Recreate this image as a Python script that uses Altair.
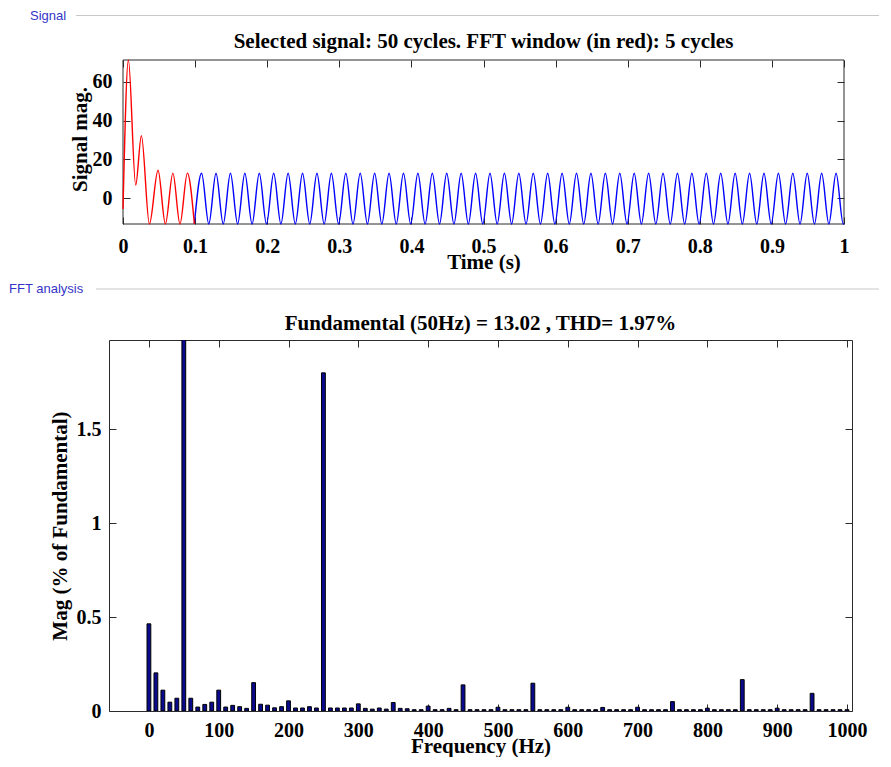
import altair as alt
import pandas as pd

# ---------------- data ----------------
# Signal (FFT window, red): extrema of the transient over the first 5 cycles
red_t = [0.0, 0.0075, 0.0176, 0.0255, 0.0366, 0.0486, 0.0588, 0.0692, 0.0790, 0.0893, 0.0990]
red_v = [-5.5, 71.2, 6.8, 32.3, -13.2, 14.5, -13.2, 13.0, -13.2, 13.0, -13.2]

# Signal (rest, blue): steady 50 Hz oscillation, troughs / peaks
blue_t = [
    0.099, 0.109, 0.119, 0.129, 0.139, 0.149, 0.159, 0.169, 0.179, 0.189,
    0.199, 0.209, 0.219, 0.229, 0.239, 0.249, 0.259, 0.269, 0.279, 0.289,
    0.299, 0.309, 0.319, 0.329, 0.339, 0.349, 0.359, 0.369, 0.379, 0.389,
    0.399, 0.409, 0.419, 0.429, 0.439, 0.449, 0.459, 0.469, 0.479, 0.489,
    0.499, 0.509, 0.519, 0.529, 0.539, 0.549, 0.559, 0.569, 0.579, 0.589,
    0.599, 0.609, 0.619, 0.629, 0.639, 0.649, 0.659, 0.669, 0.679, 0.689,
    0.699, 0.709, 0.719, 0.729, 0.739, 0.749, 0.759, 0.769, 0.779, 0.789,
    0.799, 0.809, 0.819, 0.829, 0.839, 0.849, 0.859, 0.869, 0.879, 0.889,
    0.899, 0.909, 0.919, 0.929, 0.939, 0.949, 0.959, 0.969, 0.979, 0.989,
    0.999, 1.0,
]
blue_v = [
    -13.2, 12.9, -13.2, 12.9, -13.2, 12.9, -13.2, 12.9, -13.2, 12.9,
    -13.2, 12.9, -13.2, 12.9, -13.2, 12.9, -13.2, 12.9, -13.2, 12.9,
    -13.2, 12.9, -13.2, 12.9, -13.2, 12.9, -13.2, 12.9, -13.2, 12.9,
    -13.2, 12.9, -13.2, 12.9, -13.2, 12.9, -13.2, 12.9, -13.2, 12.9,
    -13.2, 12.9, -13.2, 12.9, -13.2, 12.9, -13.2, 12.9, -13.2, 12.9,
    -13.2, 12.9, -13.2, 12.9, -13.2, 12.9, -13.2, 12.9, -13.2, 12.9,
    -13.2, 12.9, -13.2, 12.9, -13.2, 12.9, -13.2, 12.9, -13.2, 12.9,
    -13.2, 12.9, -13.2, 12.9, -13.2, 12.9, -13.2, 12.9, -13.2, 12.9,
    -13.2, 12.9, -13.2, 12.9, -13.2, 12.9, -13.2, 12.9, -13.2, 12.9,
    -13.2, -13.1,
]

# FFT spectrum: 10 Hz bins from 0 to 1000 Hz, magnitude in % of fundamental
freqs = list(range(0, 1010, 10))
mags = [
    0.464, 0.203, 0.111, 0.047, 0.068, 100.0, 0.068, 0.021, 0.035, 0.047,
    0.111, 0.021, 0.030, 0.023, 0.014, 0.151, 0.036, 0.031, 0.017, 0.023,
    0.054, 0.016, 0.016, 0.023, 0.016, 1.800, 0.016, 0.016, 0.016, 0.016,
    0.038, 0.014, 0.010, 0.016, 0.010, 0.045, 0.014, 0.012, 0.007, 0.007,
    0.026, 0.007, 0.007, 0.014, 0.007, 0.139, 0.007, 0.007, 0.007, 0.007,
    0.020, 0.007, 0.007, 0.007, 0.007, 0.148, 0.007, 0.007, 0.007, 0.007,
    0.020, 0.007, 0.007, 0.007, 0.007, 0.019, 0.007, 0.007, 0.007, 0.007,
    0.020, 0.007, 0.007, 0.007, 0.007, 0.050, 0.007, 0.007, 0.007, 0.007,
    0.015, 0.007, 0.007, 0.007, 0.007, 0.167, 0.007, 0.007, 0.007, 0.007,
    0.015, 0.007, 0.007, 0.007, 0.007, 0.094, 0.007, 0.007, 0.007, 0.007,
    0.007,
]

time_ticks = [0, 0.1, 0.2, 0.3, 0.4, 0.5, 0.6, 0.7, 0.8, 0.9, 1]
sig_ticks = [0, 20, 40, 60]
freq_ticks = [0, 100, 200, 300, 400, 500, 600, 700, 800, 900, 1000]
mag_ticks = [0, 0.5, 1, 1.5]

top_title = "Selected signal: 50 cycles. FFT window (in red): 5 cycles"
bot_title = "Fundamental (50Hz) = 13.02 , THD= 1.97%"

# ---------------- styling ----------------
SERIF = "Liberation Serif"
SANS = "Liberation Sans"
FRAME = "#2b2b2b"
HEAD_BLUE = "#3535c8"
HEAD_GRAY = "#c8c8c8"
SHIFT = 14                 # top plot frame starts 14 px right of the bottom one
TW, TH = 721, 164
BW, BH = 743, 371
TICK = 7

red_df = pd.DataFrame({"t": red_t, "v": red_v})
blue_df = pd.DataFrame({"t": blue_t, "v": blue_v})
fft_df = pd.DataFrame({"f": freqs, "m": mags})
one = pd.DataFrame({"k": [0]})


def main_axis(orient, values, pad, title, tx, ty, off=-TICK):
    return alt.Axis(orient=orient, values=values, format="~r", tickSize=TICK, offset=off,
                    domain=False, grid=False, labelPadding=pad, labelFlush=False,
                    labelOverlap=False, title=title, titleX=tx, titleY=ty,
                    titleBaseline="alphabetic")


def mirror_axis(orient, values):
    return alt.Axis(orient=orient, values=values, labels=False, title=None, tickSize=TICK,
                    offset=-TICK, domain=False, grid=False)


def text(x, y, s, **kw):
    return alt.Chart(one).mark_text(**kw).encode(x=alt.value(x), y=alt.value(y), text=alt.value(s))


def hline(x1, x2, y, color, width=1):
    return alt.Chart(one).mark_rule(color=color, strokeWidth=width).encode(
        x=alt.value(x1), x2=alt.value(x2), y=alt.value(y))


# ---------------- top panel: signal ----------------
x_t = alt.Scale(domain=[0, 1], range=[SHIFT, SHIFT + TW], nice=False, zero=False)
y_t = alt.Scale(domain=[-13.2, 71.2], nice=False, zero=False)

blue = alt.Chart(blue_df).mark_line(color="#0000ff", strokeWidth=1.4, interpolate="monotone").encode(
    x=alt.X("t:Q", scale=x_t, axis=main_axis("bottom", time_ticks, 12, "Time (s)", SHIFT + TW / 2, 51)),
    y=alt.Y("v:Q", scale=y_t, axis=main_axis("left", sig_ticks, 11, "Signal mag.", -44, 79,
                                             off=-TICK - SHIFT)),
)
red = alt.Chart(red_df).mark_line(color="#ff0000", strokeWidth=1.4, interpolate="monotone").encode(
    x=alt.X("t:Q", scale=x_t, axis=mirror_axis("top", time_ticks)),
    y=alt.Y("v:Q", scale=y_t, axis=mirror_axis("right", sig_ticks)),
)
frame = alt.Chart(one).mark_rect(fill="transparent", stroke=FRAME, strokeWidth=1).encode(
    x=alt.value(SHIFT), x2=alt.value(SHIFT + TW), y=alt.value(0), y2=alt.value(TH))

top = alt.layer(
    frame, blue, red,
    text(SHIFT + TW / 2, -12, top_title, font=SERIF, fontSize=21, fontWeight="bold", align="center",
         baseline="alphabetic", color="black"),
    text(-79, -44, "Signal", font=SANS, fontSize=13, align="left", baseline="middle", color=HEAD_BLUE),
    hline(-33, 770, -44.5, HEAD_GRAY),
    hline(0, 1, -51, "white"),
    hline(0, 1, 219, "white"),
).resolve_axis(x="independent", y="independent").properties(
    width=SHIFT + TW, height=TH, view=alt.ViewBackground(stroke="transparent"))

# ---------------- bottom panel: FFT ----------------
x_f = alt.Scale(domain=[-50, 1000], nice=False, zero=False)
y_f = alt.Scale(domain=[0, 1.975], nice=False, zero=True)

bars = alt.Chart(fft_df).mark_bar(size=3.8, fill="#0a0a8f", stroke="black", strokeWidth=1, clip=True).encode(
    x=alt.X("f:Q", scale=x_f, axis=main_axis("bottom", freq_ticks, 9, "Frequency (Hz)", BW / 2, 48)),
    y=alt.Y("m:Q", scale=y_f, axis=main_axis("left", mag_ticks, 8, "Mag (% of Fundamental)", -49.5, BH / 2)),
)
ghost = alt.Chart(fft_df).mark_point(opacity=0, clip=True).encode(
    x=alt.X("f:Q", scale=x_f, axis=mirror_axis("top", freq_ticks)),
    y=alt.Y("m:Q", scale=y_f, axis=mirror_axis("right", mag_ticks)),
)

bottom = alt.layer(
    bars, ghost,
    text(BW / 2, -10, bot_title, font=SERIF, fontSize=21, fontWeight="bold", align="center",
         baseline="alphabetic", color="black"),
    text(-100, -51, "FFT analysis", font=SANS, fontSize=13, align="left", baseline="middle", color=HEAD_BLUE),
    hline(-13, 770, -51, HEAD_GRAY),
    hline(-100, -99, -59, "white"),
).resolve_axis(x="independent", y="independent").properties(width=BW, height=BH)

chart = alt.concat(top, bottom, columns=1, spacing=0).properties(
    padding=0
).configure_axis(
    labelFont=SERIF, labelFontSize=20, labelFontWeight="bold", labelColor="black",
    titleFont=SERIF, titleFontSize=21, titleFontWeight="bold", titleColor="black",
    tickColor=FRAME, tickWidth=1,
).configure_view(stroke=FRAME, strokeWidth=1)

chart.save("out.html", embed_options={"renderer": "svg", "actions": False})
